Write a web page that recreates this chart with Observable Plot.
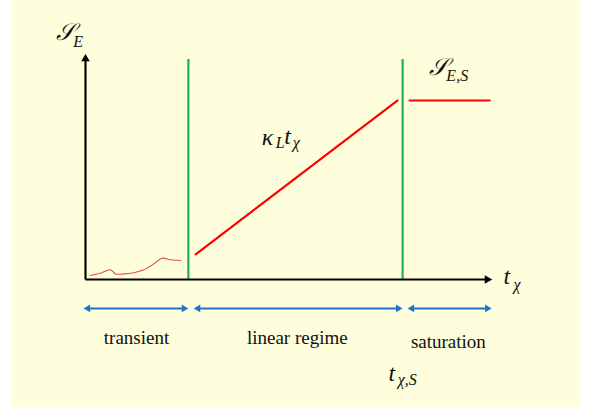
<!DOCTYPE html>
<html>
<head>
<meta charset="utf-8">
<script src="https://cdn.jsdelivr.net/npm/d3@7"></script>
<script src="https://cdn.jsdelivr.net/npm/@observablehq/plot@0.6"></script>
<style>
  html, body { margin: 0; padding: 0; background: #ffffff; }
  #wrap { position: relative; width: 596px; height: 407px; }
  #bg { position: absolute; left: 12px; top: 0; width: 568px; height: 407px; background: #fefddc; }
  #chart { position: absolute; left: 0; top: 0; }
</style>
</head>
<body>
<div id="wrap"><div id="bg"></div><div id="chart"></div></div>
<script>
// Schematic values in data units (time t, entropy S)
const tTransientEnd = 2.54;
const tSaturation = 7.83;
const axisMax = 10;
const greenTop = 9.82;

// transient wiggle
const transientT = [0.12, 0.37, 0.62, 0.74, 0.95, 1.19, 1.44, 1.69, 1.89, 2.10, 2.35];
const transientS = [0.18, 0.28, 0.43, 0.25, 0.25, 0.30, 0.43, 0.70, 0.95, 0.88, 0.85];

// linear regime
const linearT = [2.72, 7.70];
const linearS = [1.12, 7.99];

// saturation
const satT = [8.00, 9.98];
const satS = [7.99, 7.99];

// regime arrows
const regimeArrowY = -1.29;
const regimeStart = [0, 2.72, 8.00];
const regimeEnd = [2.49, 7.78, 9.98];

// labels
const regimeNames = ["transient", "linear regime", "saturation"];
const regimeLabelX = [1.26, 5.23, 8.96];
const regimeLabelY = [-2.86, -2.86, -3.04];

const mathMain = ["𝒮", "𝒮", "κ", "t", "t", "t"];
const mathMainX = [-0.74, 8.47, 4.35, 4.91, 10.32, 7.48];
const mathMainY = [10.67, 9.15, 6.00, 6.07, -0.22, -4.51];
const mathSub = ["E", "E,S", "L", "χ", "χ", "χ,S"];
const mathSubX = [-0.30, 8.91, 4.70, 5.12, 10.57, 7.71];
const mathSubY = [10.40, 8.88, 5.89, 5.85, -0.49, -4.73];

const transient = transientT.map((t, i) => ({t, s: transientS[i]}));
const linear = linearT.map((t, i) => ({t, s: linearS[i]}));
const sat = satT.map((t, i) => ({t, s: satS[i]}));
const regimes = regimeStart.map((a, i) => ({a, b: regimeEnd[i], y: regimeArrowY}));
const regimeLabels = regimeNames.map((n, i) => ({n, x: regimeLabelX[i], y: regimeLabelY[i]}));
const mains = mathMain.map((m, i) => ({m, x: mathMainX[i], y: mathMainY[i]}));
const subs = mathSub.map((m, i) => ({m, x: mathSubX[i], y: mathSubY[i]}));
const greens = [tTransientEnd, tSaturation];

const serif = "'Liberation Serif', 'DejaVu Serif', serif";
const blue = "#1f74c6";
const green = "#22b14c";

const plot = Plot.plot({
  width: 596,
  height: 407,
  margin: 0,
  style: {background: "transparent", overflow: "visible"},
  x: {domain: [0, axisMax], range: [85, 490], axis: null},
  y: {domain: [0, axisMax], range: [279, 55], axis: null},
  marks: [
    // green regime boundaries
    Plot.ruleX(greens, {x: d => d, y1: 0, y2: greenTop, stroke: green, strokeWidth: 2.2}),
    // axes
    Plot.link([{x1: 0, y1: 0, x2: 0, y2: axisMax - 0.15}], {x1: "x1", y1: "y1", x2: "x2", y2: "y2", stroke: "black", strokeWidth: 2.2}),
    Plot.link([{x1: 0, y1: 0, x2: axisMax - 0.1, y2: 0}], {x1: "x1", y1: "y1", x2: "x2", y2: "y2", stroke: "black", strokeWidth: 2.2}),
    Plot.dot([{x: 0, y: axisMax - 0.15}], {x: "x", y: "y", symbol: "triangle", r: 3.2, fill: "black", stroke: null, rotate: 0}),
    Plot.dot([{x: axisMax - 0.08, y: 0}], {x: "x", y: "y", symbol: "triangle", r: 3.2, fill: "black", stroke: null, rotate: 90}),
    // transient wiggle
    Plot.line(transient, {x: "t", y: "s", stroke: "#f04848", strokeWidth: 1.1, curve: "catmull-rom"}),
    // linear regime
    Plot.line(linear, {x: "t", y: "s", stroke: "#ff0000", strokeWidth: 2.2}),
    // saturation
    Plot.line(sat, {x: "t", y: "s", stroke: "#ff0000", strokeWidth: 2.2}),
    // regime arrows
    Plot.link(regimes, {x1: d => d.a + 0.08, x2: d => d.b - 0.08, y1: "y", y2: "y", stroke: blue, strokeWidth: 2}),
    Plot.dot(regimes, {x: d => d.a + 0.06, y: "y", symbol: "triangle", r: 2.8, fill: blue, stroke: null, rotate: -90}),
    Plot.dot(regimes, {x: d => d.b - 0.06, y: "y", symbol: "triangle", r: 2.8, fill: blue, stroke: null, rotate: 90}),
    // regime labels
    Plot.text(regimeLabels, {x: "x", y: "y", text: "n", textAnchor: "middle", lineAnchor: "bottom", fontFamily: serif, fontSize: 19, fill: "#111"}),
    // math labels
    Plot.text(mains, {x: "x", y: "y", text: "m", textAnchor: "start", lineAnchor: "bottom", fontFamily: serif, fontStyle: "italic", fontSize: 24, fill: "#111"}),
    Plot.text(subs, {x: "x", y: "y", text: "m", textAnchor: "start", lineAnchor: "bottom", fontFamily: serif, fontStyle: "italic", fontSize: 16, fill: "#111"})
  ]
});
document.getElementById("chart").appendChild(plot);
</script>
</body>
</html>
